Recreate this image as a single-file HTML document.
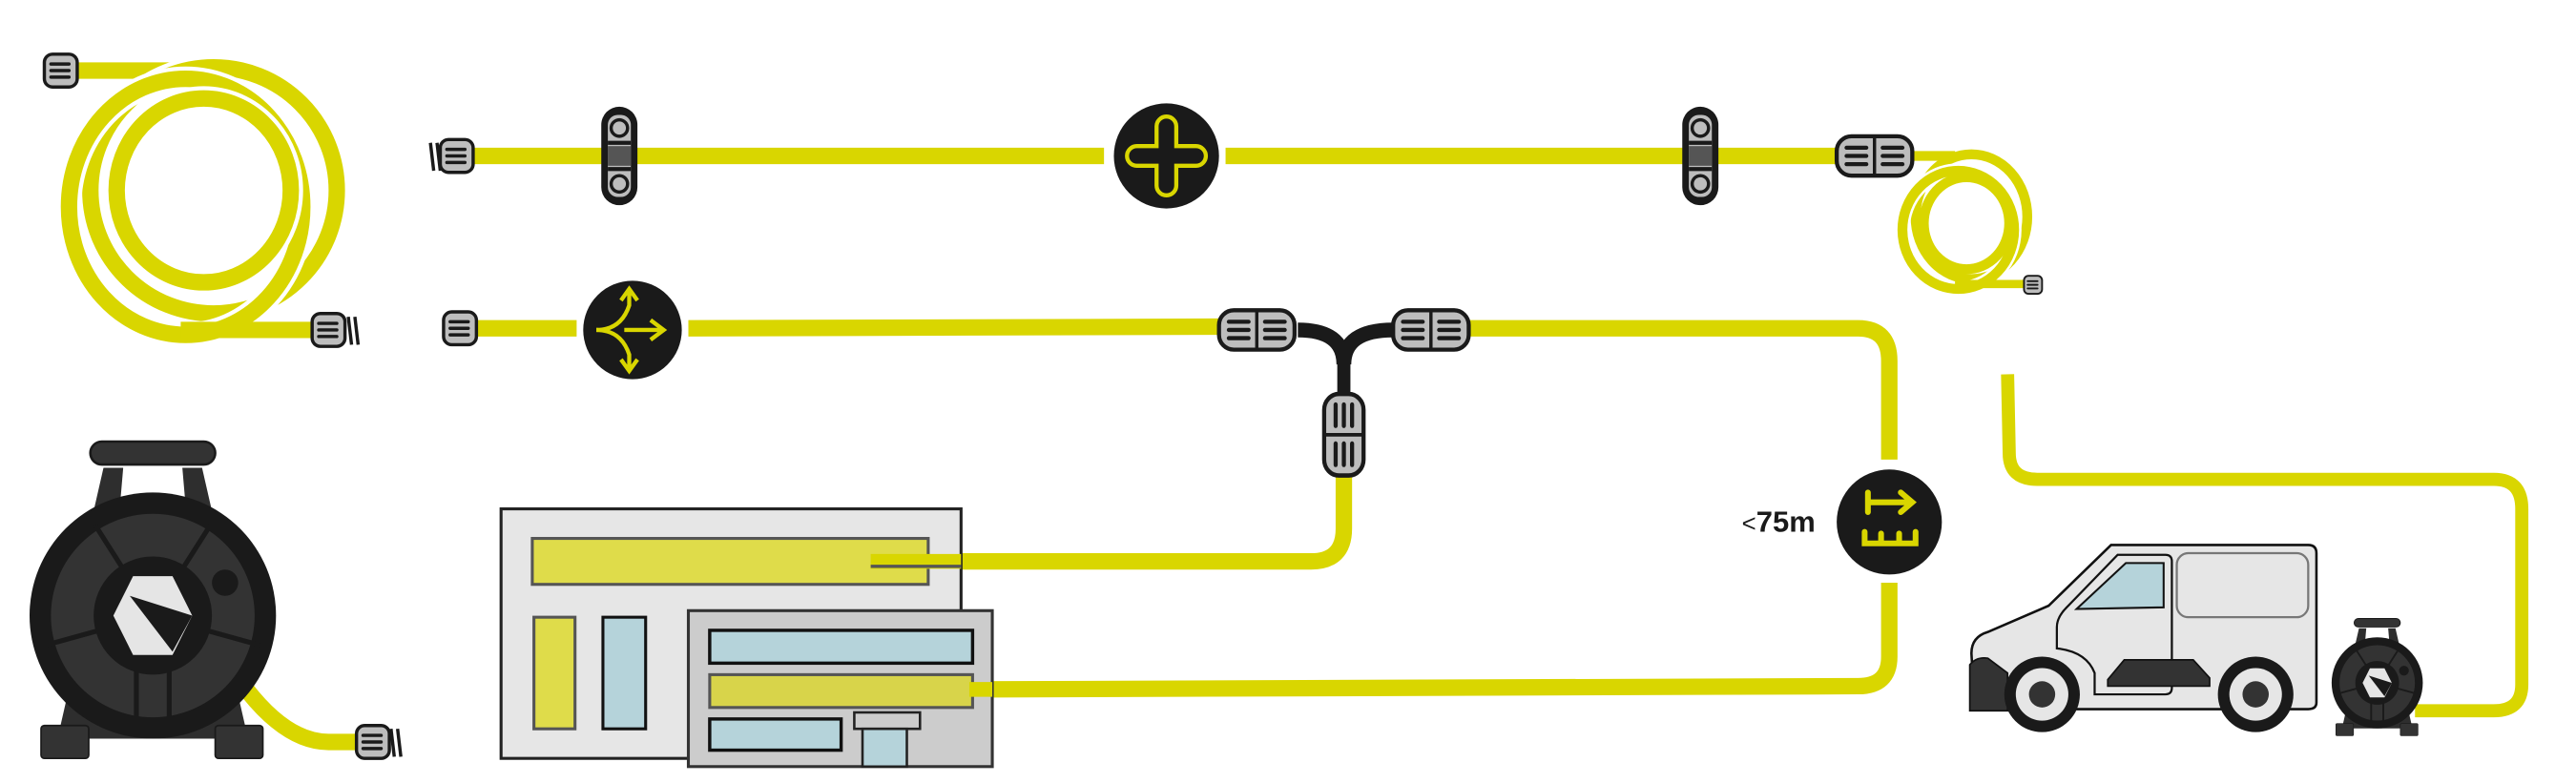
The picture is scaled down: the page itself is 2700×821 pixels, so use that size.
<!DOCTYPE html>
<html><head><meta charset="utf-8"><style>html,body{margin:0;padding:0;background:#fff}svg{display:block}</style></head>
<body>
<svg width="2700" height="821" viewBox="0 0 1568 477" preserveAspectRatio="none" xmlns="http://www.w3.org/2000/svg">
<defs>
<g id="conn"><rect x="0" y="0" width="20" height="20" rx="5" fill="#bdbdbd" stroke="#1a1a1a" stroke-width="2"/><line x1="4" y1="6" x2="15" y2="6" stroke="#1a1a1a" stroke-width="2" stroke-linecap="round"/><line x1="4" y1="10" x2="15" y2="10" stroke="#1a1a1a" stroke-width="2" stroke-linecap="round"/><line x1="4" y1="14" x2="15" y2="14" stroke="#1a1a1a" stroke-width="2" stroke-linecap="round"/></g>
<g id="dconn"><rect x="0" y="0" width="46" height="24" rx="9" fill="#bdbdbd" stroke="#1a1a1a" stroke-width="2.5"/><line x1="23" y1="0" x2="23" y2="24" stroke="#1a1a1a" stroke-width="2"/><g stroke="#1a1a1a" stroke-width="2.5" stroke-linecap="round"><line x1="6" y1="7" x2="18" y2="7"/><line x1="6" y1="12" x2="18" y2="12"/><line x1="6" y1="17" x2="18" y2="17"/><line x1="28" y1="7" x2="40" y2="7"/><line x1="28" y1="12" x2="40" y2="12"/><line x1="28" y1="17" x2="40" y2="17"/></g></g>
<g id="clamp"><rect x="-11" y="-30" width="22" height="60" rx="11" fill="#1a1a1a"/><rect x="-7" y="-25" width="14" height="50" rx="6" fill="#bdbdbd"/><rect x="-7" y="-6" width="14" height="12" fill="#555"/><line x1="-7" y1="-8" x2="7" y2="-8" stroke="#1a1a1a" stroke-width="2.5"/><line x1="-7" y1="8" x2="7" y2="8" stroke="#1a1a1a" stroke-width="2.5"/><circle cx="0" cy="-17" r="6" fill="#1a1a1a"/><circle cx="0" cy="-17" r="4" fill="#bdbdbd"/><circle cx="0" cy="17" r="6" fill="#1a1a1a"/><circle cx="0" cy="17" r="4" fill="#bdbdbd"/></g>
<g id="reel">
<path d="M-30,-90 L-46,-20 L46,-20 L30,-90 Z" fill="#2e2e2e"/><path d="M-18,-90 L-24,-20 L24,-20 L18,-90 Z" fill="#fff"/>
<rect x="-38" y="-106" width="76" height="14" rx="7" fill="#333" stroke="#1a1a1a" stroke-width="1.5"/>
<path d="M-50,40 L-58,75 L58,75 L50,40 Z" fill="#2e2e2e"/>
<circle r="75" fill="#1a1a1a"/><circle r="62" fill="#333"/>
<g stroke="#1a1a1a" stroke-width="3"><line x1="0" y1="0" x2="-35" y2="-55"/><line x1="0" y1="0" x2="35" y2="-55"/><line x1="0" y1="0" x2="-65" y2="18"/><line x1="0" y1="0" x2="65" y2="18"/><line x1="-10" y1="0" x2="-10" y2="62"/><line x1="10" y1="0" x2="10" y2="62"/></g>
<circle r="36" fill="#1a1a1a"/><circle cx="44" cy="-20" r="8" fill="#1a1a1a"/>
<polygon points="-12,-24 12,-24 24,0 12,24 -12,24 -24,0" fill="#e5e5e5"/>
<polygon points="-14,-12 24,0 12,22" fill="#1a1a1a"/>
<rect x="-68" y="67" width="29" height="20" rx="2" fill="#333" stroke="#1a1a1a"/><rect x="38" y="67" width="29" height="20" rx="2" fill="#333" stroke="#1a1a1a"/>
</g>
</defs>

<g fill="none" stroke="#d9d600" stroke-width="10" stroke-linecap="butt">
<path d="M47,43 L130,43"/>
<ellipse cx="130" cy="116" rx="75" ry="75" stroke="#fff" stroke-width="15"/>
<ellipse cx="130" cy="116" rx="75" ry="75"/>
<ellipse cx="113" cy="126" rx="71" ry="78" stroke="#fff" stroke-width="15"/>
<ellipse cx="113" cy="126" rx="71" ry="78"/>
<ellipse cx="124" cy="116" rx="53" ry="56" stroke="#fff" stroke-width="15"/>
<ellipse cx="124" cy="116" rx="53" ry="56"/>
<path d="M110,201 L192,201"/>
<path d="M288,95 L672,95"/><path d="M746,95 L1120,95"/>
<path d="M1165,95 L1190,95" stroke-width="6"/>
<ellipse cx="1200" cy="132" rx="34" ry="38" stroke-width="6"/>
<ellipse cx="1192" cy="140" rx="34" ry="36" stroke="#fff" stroke-width="9"/>
<ellipse cx="1192" cy="140" rx="34" ry="36" stroke-width="6"/>
<ellipse cx="1197" cy="136" rx="26" ry="28" stroke-width="6"/>
<path d="M1190,173 L1233,173" stroke-width="5"/>
<path d="M290,200 L351,200"/><path d="M419,200 L742,199"/>
<path d="M893,200 L1131,200 Q1150,200 1150,220 L1150,280"/>
<path d="M1150,355 L1150,400 Q1150,418 1131,418 L590,420"/>
<path d="M818,290 L818,322 Q818,342 798,342 L530,342"/>
<path d="M1222,228 L1223,276 Q1223,292 1240,292 L1518,292 Q1535,292 1535,310 L1535,417 Q1535,433 1518,433 L1470,433" stroke-width="8"/>
<path d="M150,420 Q175,452 200,452 L218,452"/>
</g>

<use href="#conn" x="27" y="33"/>
<use href="#conn" x="190" y="191"/>
<g stroke="#1a1a1a" stroke-width="2"><line x1="212" y1="193" x2="214" y2="210"/><line x1="216" y1="193" x2="218" y2="210"/></g>
<use href="#conn" x="268" y="85"/>
<g stroke="#1a1a1a" stroke-width="2"><line x1="262" y1="87" x2="264" y2="104"/><line x1="266" y1="87" x2="268" y2="104"/></g>
<use href="#conn" x="270" y="190"/>
<use href="#conn" x="217" y="442"/>
<g stroke="#1a1a1a" stroke-width="2"><line x1="238" y1="444" x2="240" y2="461"/><line x1="242" y1="444" x2="244" y2="461"/></g>
<g transform="translate(1232,168) scale(0.55)"><use href="#conn"/></g>

<use href="#clamp" x="377" y="95"/>
<use href="#clamp" x="1035" y="95"/>
<use href="#dconn" x="1118" y="83"/>

<circle cx="710" cy="95" r="32" fill="#1a1a1a"/>
<path d="M704,77 A6,6 0 0 1 716,77 L716,89 L728,89 A6,6 0 0 1 728,101 L716,101 L716,113 A6,6 0 0 1 704,113 L704,101 L692,101 A6,6 0 0 1 692,89 L704,89 Z" fill="none" stroke="#d9d600" stroke-width="2.5"/>
<circle cx="385" cy="201" r="30" fill="#1a1a1a"/>
<g fill="none" stroke="#d9d600" stroke-width="2.5"><path d="M363,201 Q378,201 383,186 L383,178 M388,183 L383,176 L378,183"/><path d="M363,201 Q378,201 383,216 L383,224 M388,219 L383,226 L378,219"/><path d="M380,201 L402,201 M396,195 L404,201 L396,207"/></g>

<path d="M790,201 Q818,201 818,222 Q818,201 848,201" fill="none" stroke="#1a1a1a" stroke-width="9"/>
<line x1="818" y1="215" x2="818" y2="242" stroke="#1a1a1a" stroke-width="8"/>
<use href="#dconn" x="742" y="189"/>
<use href="#dconn" x="848" y="189"/>
<g transform="translate(830,240) rotate(90)"><use href="#dconn" x="0" y="0" transform="scale(1.08,1)"/></g>

<circle cx="1150" cy="318" r="32" fill="#1a1a1a"/>
<g fill="none" stroke="#d9d600" stroke-width="3.5" stroke-linecap="round"><path d="M1137,300 L1137,312 M1137,306 L1163,306 M1157,300 L1164,306 L1157,312"/><path d="M1135,324 L1135,331 L1166,331 L1166,324 M1145,325 L1145,331 M1156,325 L1156,331"/></g>
<text x="1105" y="324" font-family="Liberation Sans, sans-serif" font-size="18" font-weight="bold" fill="#1a1a1a" text-anchor="end"><tspan font-weight="normal" font-size="15">&lt;</tspan>75m</text>

<rect x="305" y="310" width="280" height="152" fill="#e6e6e6" stroke="#222" stroke-width="1.8"/>
<rect x="324" y="328" width="241" height="28" fill="#dfdc4a" stroke="#555" stroke-width="1.8"/>
<rect x="325" y="376" width="25" height="68" fill="#dfdc4a" stroke="#555" stroke-width="1.8"/>
<rect x="367" y="376" width="26" height="68" fill="#b5d3da" stroke="#111" stroke-width="1.8"/>
<rect x="419" y="372" width="185" height="95" fill="#cccccc" stroke="#333" stroke-width="1.8"/>
<rect x="432" y="384" width="160" height="20" fill="#b5d3da" stroke="#111" stroke-width="2"/>
<rect x="432" y="411" width="160" height="20" fill="#d8d44a" stroke="#555" stroke-width="1.8"/>
<rect x="432" y="438" width="80" height="19" fill="#b5d3da" stroke="#111" stroke-width="2"/>
<rect x="520" y="434" width="40" height="10" fill="#ccc" stroke="#222" stroke-width="1.5"/>
<rect x="525" y="444" width="27" height="23" fill="#b5d3da" stroke="#222" stroke-width="1.5"/>
<line x1="530" y1="342" x2="585" y2="342" stroke="#d9d600" stroke-width="9"/>
<line x1="590" y1="420" x2="604" y2="420" stroke="#d9d600" stroke-width="9"/>
<line x1="530" y1="345" x2="585" y2="345" stroke="#555" stroke-width="2"/>

<use href="#reel" x="93" y="375"/>
<!-- van -->
<path d="M1285,332 L1405,332 Q1410,332 1410,337 L1410,428 Q1410,432 1405,432 L1202,432 L1200,398 Q1200,388 1210,385 L1247,369 Z" fill="#e6e6e6" stroke="#111" stroke-width="1.5"/>
<path d="M1289,338 L1318,338 Q1322,338 1322,342 L1322,419 Q1322,423 1318,423 L1275,423 L1275,410 Q1270,397 1252,395 L1252,382 Q1252,376 1258,370 Z" fill="none" stroke="#111" stroke-width="1.3"/>
<path d="M1294,343 L1317,343 L1317,370 L1264,371 Z" fill="#b5d3da" stroke="#111" stroke-width="1.2"/>
<rect x="1325" y="337" width="80" height="39" rx="7" fill="#e6e6e6" stroke="#777" stroke-width="1.3"/>
<path d="M1199,405 Q1203,400 1210,401 L1222,410 L1222,433 L1199,433 Z" fill="#333" stroke="#111"/>
<path d="M1283,414 L1293,402 L1335,402 L1345,413 L1345,418 L1283,418 Z" fill="#333" stroke="#111"/>
<circle cx="1243" cy="423" r="23" fill="#1a1a1a"/><circle cx="1243" cy="423" r="16" fill="#e6e6e6"/><circle cx="1243" cy="423" r="8" fill="#333"/>
<circle cx="1373" cy="423" r="23" fill="#1a1a1a"/><circle cx="1373" cy="423" r="16" fill="#e6e6e6"/><circle cx="1373" cy="423" r="8" fill="#333"/>
<g transform="translate(1447,416) scale(0.37)"><use href="#reel"/></g>
</svg>
</body></html>
